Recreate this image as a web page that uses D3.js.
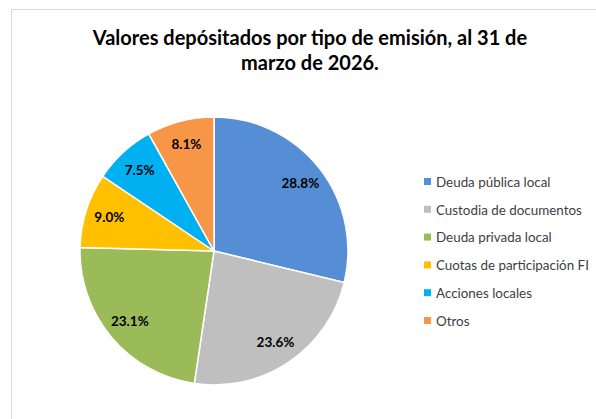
<!DOCTYPE html>
<html>
<head>
<meta charset="utf-8">
<script src="https://cdn.jsdelivr.net/npm/d3@7"></script>
<style>
  body { margin: 0; background: #fff; }
  svg { display: block; font-family: Lato, "Open Sans", sans-serif; }
</style>
</head>
<body>
<svg id="chart" width="596" height="419"></svg>
<script>
var categories = ["Deuda pública local", "Custodia de documentos", "Deuda privada local",
                  "Cuotas de participación FI", "Acciones locales", "Otros"];
var values = [28.8, 23.6, 23.1, 9.0, 7.5, 8.1];
var colors = ["#558ED5", "#BFBFBF", "#9BBB59", "#FFC000", "#00B0F0", "#F79646"];
var titleLines = ["Valores depósitados por tipo de emisión, al 31 de", "marzo de 2026."];

var svg = d3.select("#chart");
var width = 596, height = 419;

// chart area border
svg.append("rect")
  .attr("x", 11.5).attr("y", 9.5)
  .attr("width", width).attr("height", height)
  .attr("fill", "#fff")
  .attr("stroke", "#D9D9D9")
  .attr("stroke-width", 1);

svg.append("text")
  .attr("text-anchor", "middle")
  .attr("font-weight", "bold")
  .attr("font-size", 20)
  .attr("fill", "#000")
  .selectAll("tspan")
  .data(titleLines)
  .enter().append("tspan")
  .attr("x", 310)
  .attr("y", (d, i) => 45 + i * 25)
  .text(d => d);

var cx = 214, cy = 251, r = 134;
var data = categories.map((c, i) => ({name: c, value: values[i], color: colors[i]}));

var pie = d3.pie().value(d => d.value).sort(null);
var arcs = pie(data);
var arc = d3.arc().innerRadius(0).outerRadius(r);
var labelArc = d3.arc().innerRadius(r * 0.82).outerRadius(r * 0.82);

var g = svg.append("g").attr("transform", `translate(${cx},${cy})`);

g.selectAll("path")
  .data(arcs)
  .enter().append("path")
  .attr("d", arc)
  .attr("fill", d => d.data.color)
  .attr("stroke", "#fff")
  .attr("stroke-width", 1.5);

g.selectAll("text.label")
  .data(arcs)
  .enter().append("text")
  .attr("class", "label")
  .attr("transform", d => `translate(${labelArc.centroid(d)})`)
  .attr("text-anchor", "middle")
  .attr("dy", "0.35em")
  .attr("font-weight", "bold")
  .attr("font-size", 13.5)
  .attr("fill", "#000")
  .text(d => d3.format(".1f")(d.data.value) + "%");

var legend = svg.append("g").attr("transform", "translate(424,182)");
var rows = legend.selectAll("g")
  .data(data)
  .enter().append("g")
  .attr("transform", (d, i) => `translate(0,${i * 27.8})`);

rows.append("rect")
  .attr("x", 0).attr("y", -4)
  .attr("width", 7).attr("height", 7)
  .attr("fill", d => d.color);

rows.append("text")
  .attr("x", 12)
  .attr("dy", "0.35em")
  .attr("font-size", 13.4)
  .attr("fill", "#404040")
  .text(d => d.name);
</script>
</body>
</html>
